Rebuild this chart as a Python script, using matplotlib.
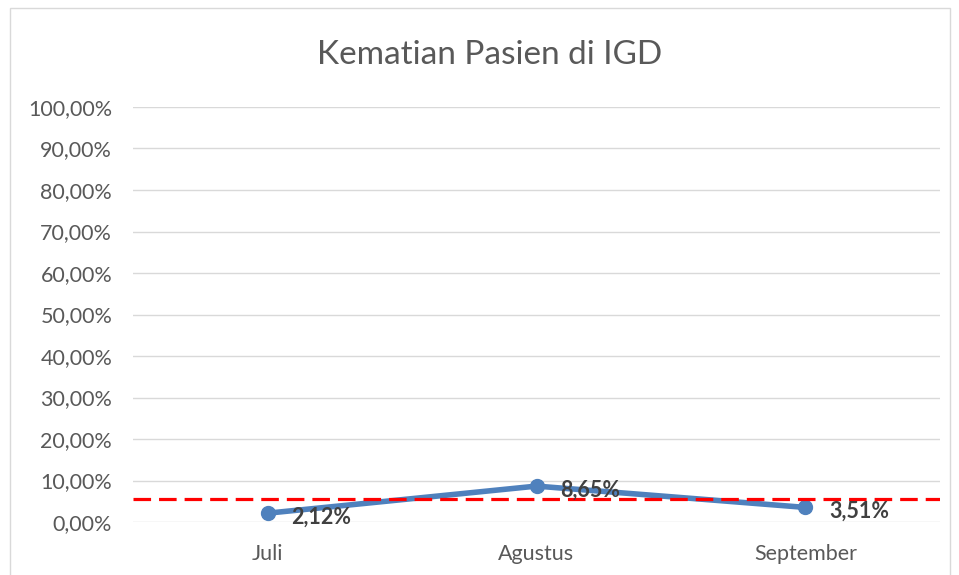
import numpy as np
import matplotlib.pyplot as plt
from matplotlib.patches import Rectangle

plt.rcParams['font.family'] = ['Lato', 'DejaVu Sans']

# data
bulan = ['Juli', 'Agustus', 'September']
kematian = [2.12, 8.65, 3.51]
standar = 5.5
yticks = np.arange(0, 101, 10)

fig = plt.figure(figsize=(9.59, 5.75), dpi=100)
ax = fig.add_axes([133/959, 1 - 522/575, (940-133)/959, (522-107)/575])

# chart border
fig.patches.append(Rectangle((10/959, -0.01), 940/959, 1 - 8/575 + 0.01,
                             transform=fig.transFigure, fill=False,
                             edgecolor='#d9d9d9', linewidth=1))

x = np.arange(len(bulan))
ax.plot(x, kematian, color='#4f81bd', linewidth=4, marker='o', markersize=10,
        solid_capstyle='round', zorder=3)
ax.axhline(standar, color='#ff0000', linestyle=(0, (5.5, 2.5)), linewidth=2.3, zorder=4)

for xi, v in zip(x, kematian):
    ax.annotate(f'{v:.2f}%'.replace('.', ','), (xi, v), xytext=(17, -3),
                textcoords='offset points', ha='left', va='center',
                fontsize=15.5, fontweight='bold', color='#404040', zorder=5)

ax.set_xlim(-0.5, 2.5)
ax.set_ylim(0, 100)
ax.set_yticks(yticks)
ax.set_yticklabels([f'{t:.2f}%'.replace('.', ',') for t in yticks])
ax.set_xticks(x)
ax.set_xticklabels(bulan)
ax.grid(axis='y', color='#d9d9d9', linewidth=1)
ax.set_axisbelow(True)
for s in ax.spines.values():
    s.set_visible(False)
ax.tick_params(length=0, labelsize=15.5, colors='#595959')
ax.tick_params(axis='x', pad=16)
ax.tick_params(axis='y', pad=15)

fig.text(490/959, 1 - 55/575, 'Kematian Pasien di IGD', ha='center', va='center',
         fontsize=24, color='#595959')

fig.savefig('out.png', dpi=100)
